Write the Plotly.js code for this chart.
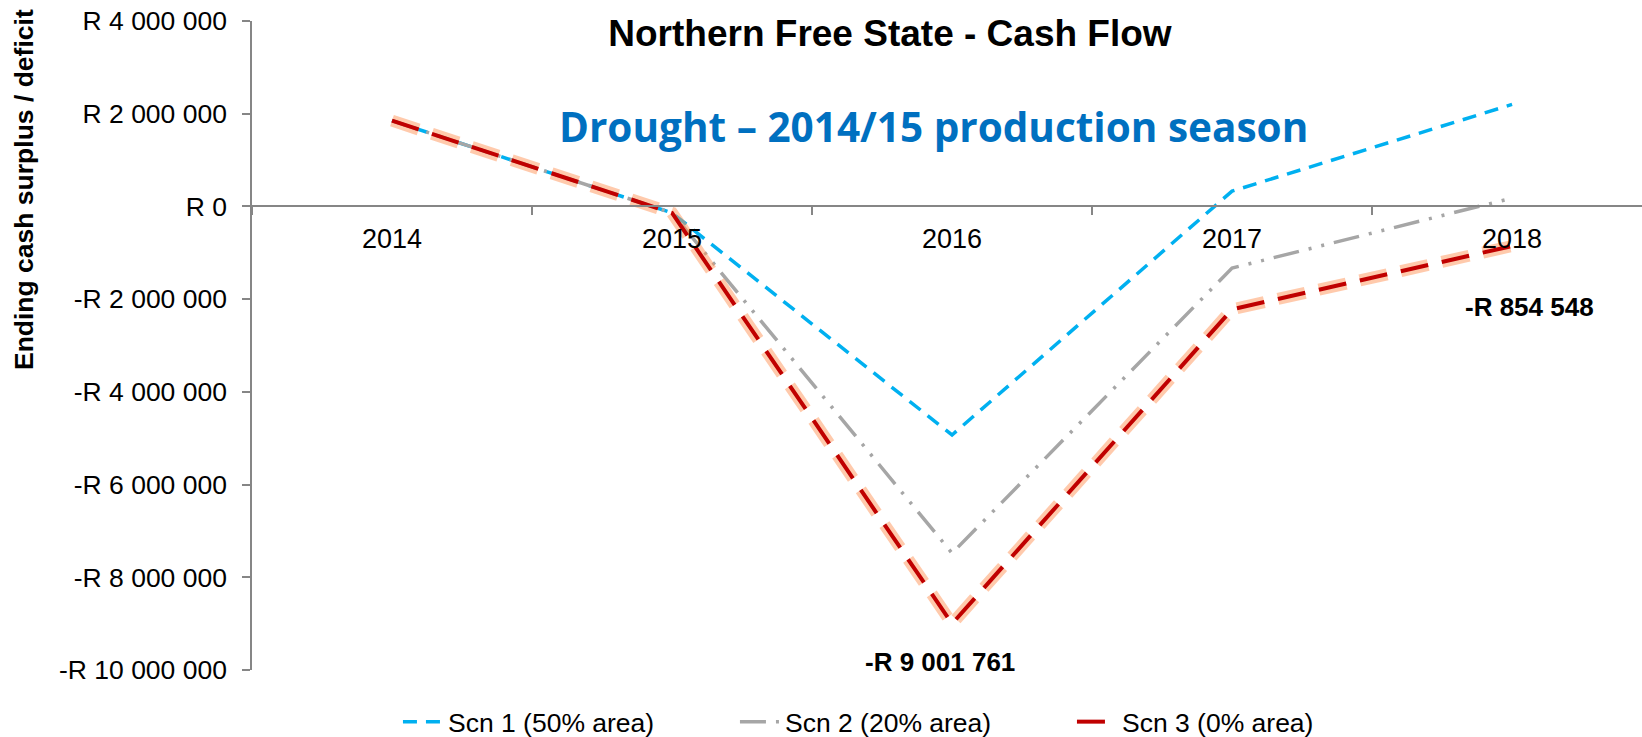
<!DOCTYPE html>
<html>
<head>
<meta charset="utf-8">
<script src="https://cdn.plot.ly/plotly-3.0.1.min.js"></script>
<style>
  html, body { margin: 0; padding: 0; background: #fff; }
  #chart { width: 1642px; height: 737px; }
</style>
</head>
<body>
<div id="chart"></div>
<script>
// data
const years = ['2014', '2015', '2016', '2017', '2018'];
const scn1 = [1850000, -140000, -4930000, 330000, 2200000];
const scn2 = [1850000, -140000, -7480000, -1330000, 180000];
const scn3 = [1850000, -140000, -9001761, -2220000, -854548];
const yTicks = [4000000, 2000000, 0, -2000000, -4000000, -6000000, -8000000, -10000000];

function rand(v) {
  const s = Math.abs(v).toString().replace(/\B(?=(\d{3})+(?!\d))/g, ' ');
  return (v < 0 ? '-R ' : 'R ') + s;
}

const fam = 'Arial, "Liberation Sans", sans-serif';
const baseFont = { family: fam, size: 25, color: '#000' };
const boldFont = { family: fam, size: 26, color: '#000', weight: 'bold' };

const glow = {
  x: years, y: scn3, type: 'scatter', mode: 'lines',
  line: { color: 'rgba(255,150,90,0.5)', width: 12, dash: '28px,14px' },
  showlegend: false, hoverinfo: 'skip'
};

const t1 = {
  x: years, y: scn1, type: 'scatter', mode: 'lines', name: 'Scn 1 (50% area)',
  line: { color: '#00B0F0', width: 3.5, dash: '14px,9px' }
};

const t2 = {
  x: years, y: scn2, type: 'scatter', mode: 'lines', name: 'Scn 2 (20% area)',
  line: { color: '#A6A6A6', width: 3.5, dash: '26px,10px,3px,10px,3px,10px' }
};

const t3 = {
  x: years, y: scn3, type: 'scatter', mode: 'lines', name: 'Scn 3 (0% area)',
  line: { color: '#C00000', width: 4, dash: '28px,14px' }
};

const layout = {
  width: 1642,
  height: 737,
  margin: { l: 252, r: 0, t: 21, b: 67, autoexpand: false },
  paper_bgcolor: '#fff',
  plot_bgcolor: '#fff',
  font: baseFont,
  title: {
    text: 'Northern Free State - Cash Flow',
    font: { family: fam, size: 37, color: '#000', weight: 'bold' },
    x: 0.542, xanchor: 'center', y: 0.955, yanchor: 'middle'
  },
  xaxis: {
    type: 'category',
    range: [-0.5, 4.464],
    anchor: 'free',
    position: 10 / 14,
    showline: true, linecolor: '#868686', linewidth: 1.5,
    ticks: 'outside', tickson: 'boundaries', ticklen: 8, tickcolor: '#868686', tickwidth: 1.5,
    ticklabelstandoff: 8,
    showgrid: false, zeroline: false,
    tickfont: { family: fam, size: 27, color: '#000' }
  },
  yaxis: {
    range: [-10000000, 4000000],
    tickvals: yTicks,
    ticktext: yTicks.map(rand),
    showline: true, linecolor: '#868686', linewidth: 1.5,
    ticks: 'outside', ticklen: 8, tickcolor: '#868686', tickwidth: 1.5,
    ticklabelstandoff: 10,
    showgrid: false, zeroline: false,
    tickfont: { family: fam, size: 26.5, color: '#000' }
  },
  legend: {
    orientation: 'h',
    x: 0.105, xanchor: 'left',
    y: -0.08, yanchor: 'middle',
    font: { family: fam, size: 26.5, color: '#000' },
    itemwidth: 40,
    entrywidth: 282
  },
  annotations: [
    {
      text: 'Drought – 2014/15 production season',
      xref: 'paper', yref: 'paper', x: 0.4906, y: 0.838,
      xanchor: 'center', yanchor: 'middle', showarrow: false,
      font: { family: '"Open Sans", sans-serif', size: 40.5, color: '#0070C0', weight: 'bold' }
    },
    {
      text: 'Ending cash surplus / deficit',
      xref: 'paper', yref: 'paper', x: -0.164, y: 0.7396,
      xanchor: 'center', yanchor: 'middle', textangle: -90, showarrow: false,
      font: { family: fam, size: 26.5, color: '#000', weight: 'bold' }
    },
    {
      text: rand(scn3[2]),
      xref: 'x', yref: 'y', x: 2, y: scn3[2], xshift: -12, yshift: -38, showarrow: false,
      font: boldFont
    },
    {
      text: rand(scn3[4]),
      xref: 'x', yref: 'y', x: 4, y: scn3[4], xshift: 17, yshift: -61, showarrow: false,
      font: boldFont
    }
  ]
};

Plotly.newPlot('chart', [t1, t2, glow, t3], layout, { displayModeBar: false });
</script>
</body>
</html>
